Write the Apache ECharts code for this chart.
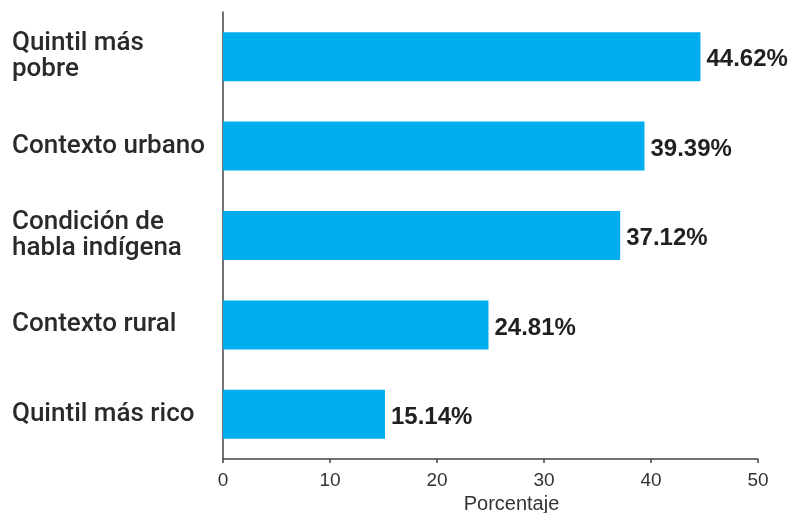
<!DOCTYPE html>
<html><head><meta charset="utf-8">
<script src="https://cdn.jsdelivr.net/npm/echarts@6/dist/echarts.min.js"></script>
<style>html,body{margin:0;padding:0;background:#fff}#c{width:790px;height:513px}</style>
</head><body><div id="c"></div>
<script>
const categories = ['Quintil más\npobre', 'Contexto urbano', 'Condición de\nhabla indígena', 'Contexto rural', 'Quintil más rico'];
const values = [44.62, 39.39, 37.12, 24.81, 15.14];
const xTicks = [0, 10, 20, 30, 40, 50];
const xAxisName = 'Porcentaje';

const catLabelStyle = {align: 'left', fontFamily: 'Roboto, Liberation Sans, Arial', fontSize: 26, fontWeight: 500, color: '#2a2a2a', lineHeight: 26};
const yData = categories.map((c, i) => i === 0 ? {value: c, textStyle: Object.assign({}, catLabelStyle, {padding: [16, 0, 0, 0]})} : c);

const chart = echarts.init(document.getElementById('c'), null, {renderer: 'canvas'});
chart.setOption({
  animation: false,
  backgroundColor: '#fff',
  grid: {left: 223, right: 32, top: 12, bottom: 54, outerBoundsMode: 'none', containLabel: false},
  xAxis: {
    type: 'value', min: xTicks[0], max: xTicks[xTicks.length - 1], interval: 10,
    name: xAxisName, nameLocation: 'middle', nameGap: 35,
    nameTextStyle: {fontFamily: 'Liberation Sans Narrow, Liberation Sans, Arial', fontSize: 20, color: '#333', padding: [0, 0, 0, 42]},
    axisLine: {show: true, lineStyle: {color: '#444', width: 1.5}},
    axisTick: {show: true, length: 4, lineStyle: {color: '#444', width: 1.5}},
    axisLabel: {fontFamily: 'Liberation Sans Narrow, Liberation Sans, Arial', fontSize: 19, color: '#333', margin: 12},
    splitLine: {show: false}
  },
  yAxis: {
    type: 'category', data: yData, inverse: true,
    axisLine: {show: true, lineStyle: {color: '#444', width: 1.5}},
    axisTick: {show: false},
    axisLabel: Object.assign({margin: 211}, catLabelStyle)
  },
  series: [{
    type: 'bar', data: values, barWidth: 49,
    itemStyle: {color: '#00aeef'},
    label: {show: true, position: 'right', distance: 6, formatter: p => p.value.toFixed(2) + '%',
      fontFamily: 'Liberation Sans, Arial', fontSize: 24, fontWeight: 'bold', color: '#231f20', offset: [0, 3]}
  }]
});
</script></body></html>
